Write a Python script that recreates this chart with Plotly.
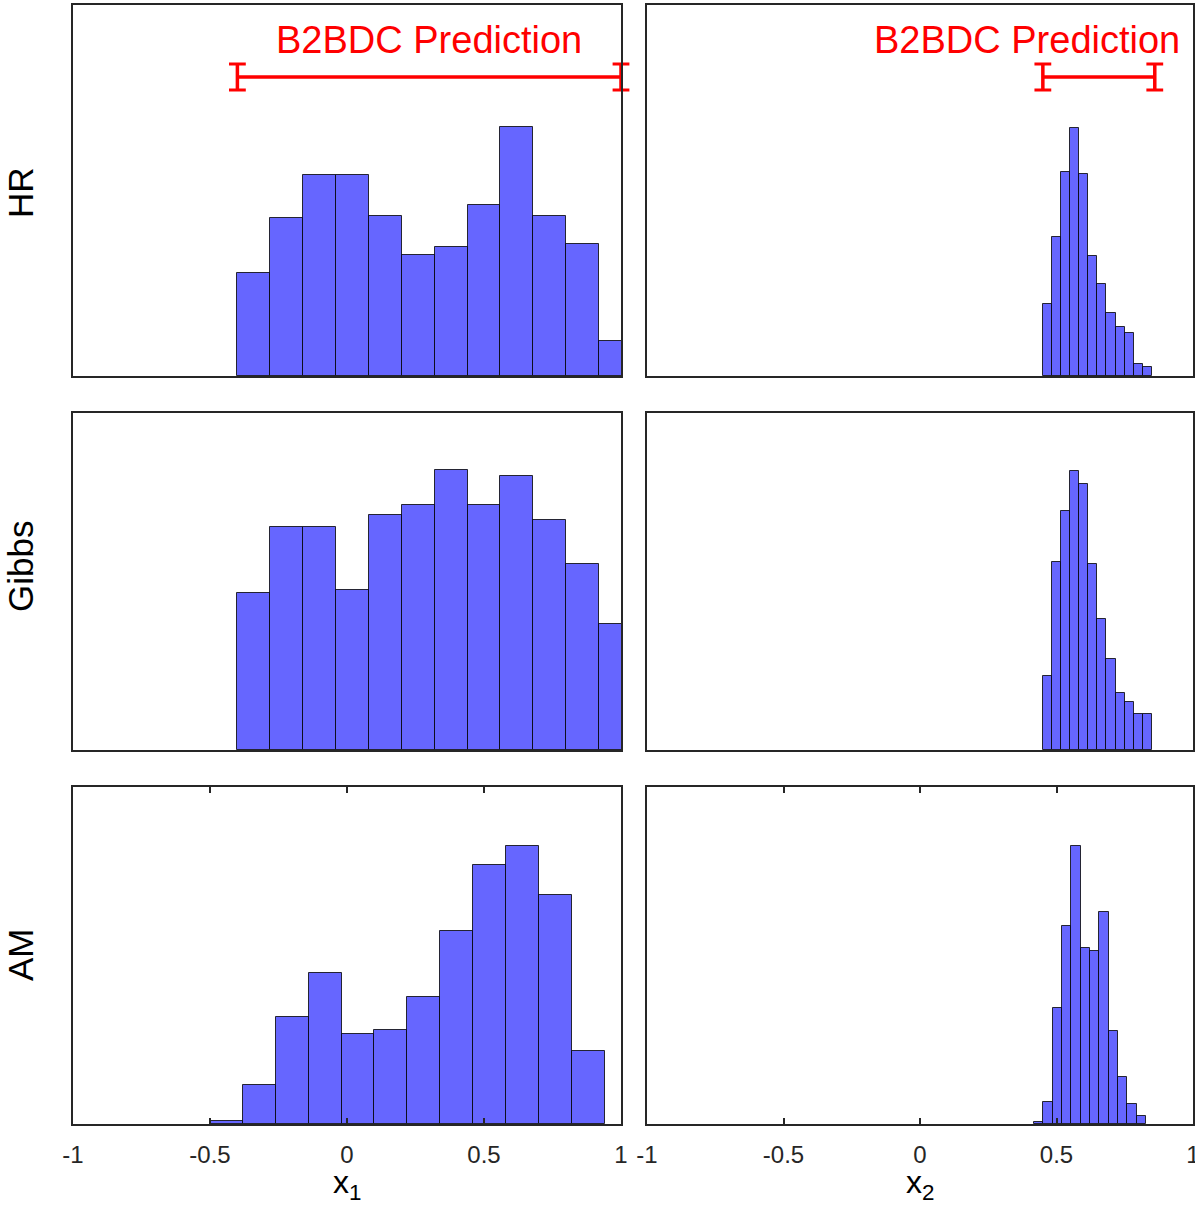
import plotly.graph_objects as go
from plotly.subplots import make_subplots

# ---------------- data ----------------
methods = ["HR", "Gibbs", "AM"]

# histogram counts (x1 column)
hr_x1_counts = [103, 158, 201, 201, 160, 121, 129, 171, 249, 160, 132, 35]
gibbs_x1_counts = [157, 223, 223, 160, 235, 245, 280, 245, 274, 230, 186, 126]
am_x1_counts = [3, 39, 107, 151, 90, 94, 127, 193, 259, 278, 229, 73]

# histogram counts (x2 column)
hr_x2_counts = [72, 139, 204, 248, 202, 120, 92, 63, 49, 43, 12, 9]
gibbs_x2_counts = [74, 188, 239, 279, 266, 186, 131, 91, 57, 48, 36, 36]
am_x2_counts = [2, 22, 116, 198, 278, 176, 173, 212, 93, 47, 20, 8]

# bin definitions (first left edge, bin width) per method
x1_bin_starts = [-0.4, -0.4, -0.5]
x1_bin_widths = [0.12, 0.12, 0.12]
x2_bin_starts = [0.45, 0.45, 0.418]
x2_bin_widths = [0.0333, 0.0333, 0.0342]

# B2BDC prediction intervals
x1_prediction = [-0.4, 1.0]
x2_prediction = [0.45, 0.86]
prediction_label = "B2BDC Prediction"

tick_vals = [-1, -0.5, 0, 0.5, 1]
tick_text = ["-1", "-0.5", "0", "0.5", "1"]
x_titles = ["x<sub>1</sub>", "x<sub>2</sub>"]

# ---------------- styling ----------------
W, H = 1195, 1209
FONT = "Liberation Sans, Arial, Helvetica, sans-serif"
AX = "#262626"
BAR_FILL = "rgb(102,102,255)"
BAR_EDGE = "rgba(0,0,0,0.8)"

col_px = [(73, 621), (647, 1193)]
row_px = [(5, 376), (413, 750), (787, 1124)]
row_ymax = [371, 337, 337]

fig = make_subplots(rows=3, cols=2)

counts = [
    [hr_x1_counts, hr_x2_counts],
    [gibbs_x1_counts, gibbs_x2_counts],
    [am_x1_counts, am_x2_counts],
]
starts = [x1_bin_starts, x2_bin_starts]
widths = [x1_bin_widths, x2_bin_widths]

for r in range(3):
    for c in range(2):
        y = counts[r][c]
        s = starts[c][r]
        w = widths[c][r]
        centers = [s + w * (i + 0.5) for i in range(len(y))]
        fig.add_trace(
            go.Bar(
                x=centers, y=y, width=[w] * len(y),
                marker=dict(color=BAR_FILL, line=dict(color=BAR_EDGE, width=1)),
                showlegend=False, hoverinfo="skip",
            ),
            row=r + 1, col=c + 1,
        )

# prediction error bars in top row
for c, pred in enumerate([x1_prediction, x2_prediction]):
    mid = (pred[0] + pred[1]) / 2
    half = (pred[1] - pred[0]) / 2
    fig.add_trace(
        go.Scatter(
            x=[mid], y=[299], mode="markers",
            marker=dict(size=1, color="rgba(255,0,0,0)"),
            error_x=dict(type="data", array=[half], arrayminus=[half],
                         color="#FF0000", thickness=3.5, width=13, visible=True),
            cliponaxis=False, showlegend=False, hoverinfo="skip",
        ),
        row=1, col=c + 1,
    )
    # serifs on the caps
    fig.add_trace(
        go.Scatter(
            x=[pred[0], pred[0], pred[1], pred[1]], y=[299 + 13, 299 - 13, 299 + 13, 299 - 13],
            mode="markers",
            marker=dict(symbol="line-ew", size=12, line=dict(color="#FF0000", width=3)),
            cliponaxis=False, showlegend=False, hoverinfo="skip",
        ),
        row=1, col=c + 1,
    )

fig.update_layout(
    width=W, height=H,
    margin=dict(l=0, r=0, t=0, b=0, autoexpand=False),
    paper_bgcolor="white", plot_bgcolor="white",
    bargap=0, barmode="overlay",
    font=dict(family=FONT, color=AX, size=24),
)

for r in range(3):
    for c in range(2):
        idx = r * 2 + c + 1
        xa = "xaxis" if idx == 1 else f"xaxis{idx}"
        ya = "yaxis" if idx == 1 else f"yaxis{idx}"
        x0, x1p = col_px[c]
        y0, y1p = row_px[r]
        bottom = (r == 2)
        fig.layout[xa].update(
            domain=[x0 / W, x1p / W], automargin=False,
            range=[-1, 1], showgrid=False, zeroline=False,
            showline=True, linecolor=AX, linewidth=2,
            mirror="ticks" if bottom else True,
            ticks="inside" if bottom else "",
            ticklen=6, tickwidth=2, tickcolor=AX,
            tickvals=tick_vals, ticktext=tick_text,
            showticklabels=bottom,
            ticklabeloverflow="allow",
            tickfont=dict(family=FONT, size=24, color=AX),
            ticklabelstandoff=8,
        )
        fig.layout[ya].update(
            domain=[1 - y1p / H, 1 - y0 / H], automargin=False,
            range=[0, row_ymax[r]], showgrid=False, zeroline=False,
            showline=True, linecolor=AX, linewidth=2, mirror=True,
            ticks="", showticklabels=False,
        )

annotations = []
# row labels
label_y_px = [193, 567, 955]
for name, ypx in zip(methods, label_y_px):
    annotations.append(dict(
        text=name, x=20 / W, y=1 - ypx / H, xref="paper", yref="paper",
        showarrow=False, textangle=-90, xanchor="center", yanchor="middle",
        font=dict(family=FONT, size=35, color="black"),
    ))
# x titles
for c, t in enumerate(x_titles):
    cx = (col_px[c][0] + col_px[c][1]) / 2 / W
    annotations.append(dict(
        text=t, x=cx, y=1 - 1184 / H, xref="paper", yref="paper",
        showarrow=False, xanchor="center", yanchor="middle",
        font=dict(family=FONT, size=32, color="black"),
    ))
# prediction labels
label_x = [0.3, 0.392]
for c in range(2):
    annotations.append(dict(
        text=prediction_label, x=label_x[c], y=336,
        xref="x" if c == 0 else "x2", yref="y" if c == 0 else "y2",
        showarrow=False, xanchor="center", yanchor="middle",
        font=dict(family=FONT, size=38, color="#FF0000"),
    ))
fig.update_layout(annotations=annotations)

fig.write_html("out.html")
